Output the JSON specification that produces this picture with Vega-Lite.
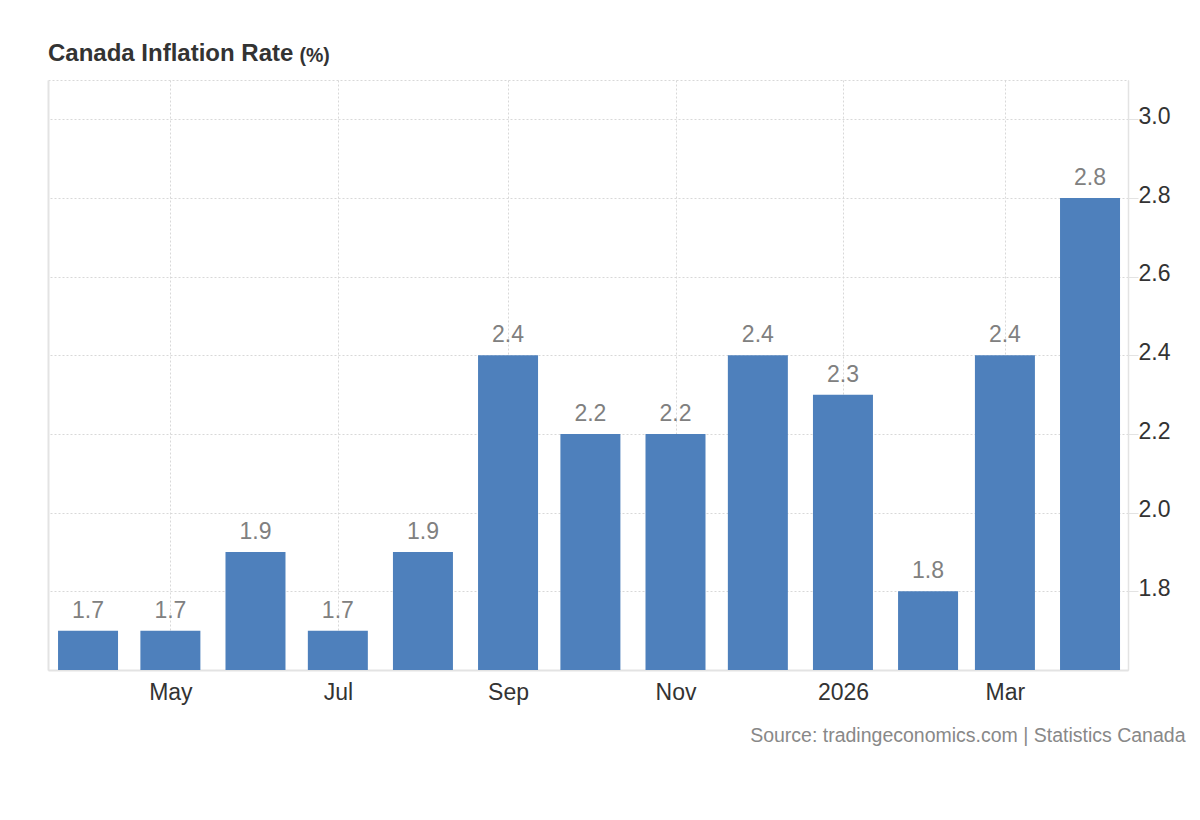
{
  "$schema": "https://vega.github.io/schema/vega-lite/v6.json",
  "width": 1080,
  "height": 590,
  "autosize": {"type": "none"},
  "padding": {"left": 48, "top": 80, "right": 72, "bottom": 150},
  "background": "white",
  "config": {
    "font": "Liberation Sans",
    "view": {"stroke": "#d8d8d8", "strokeDash": [2, 2]}
  },
  "title": {
    "text": "Canada Inflation Rate",
    "anchor": "start",
    "frame": "group",
    "fontSize": 24,
    "fontWeight": "bold",
    "color": "#333333",
    "baseline": "alphabetic",
    "offset": -3,
    "dy": 37
  },
  "data": {
    "values": [
      {"date": "2025-04-01", "value": 1.7},
      {"date": "2025-05-01", "value": 1.7},
      {"date": "2025-06-01", "value": 1.9},
      {"date": "2025-07-01", "value": 1.7},
      {"date": "2025-08-01", "value": 1.9},
      {"date": "2025-09-01", "value": 2.4},
      {"date": "2025-10-01", "value": 2.2},
      {"date": "2025-11-01", "value": 2.2},
      {"date": "2025-12-01", "value": 2.4},
      {"date": "2026-01-01", "value": 2.3},
      {"date": "2026-02-01", "value": 1.8},
      {"date": "2026-03-01", "value": 2.4},
      {"date": "2026-04-01", "value": 2.8}
    ]
  },
  "encoding": {
    "x": {
      "field": "date",
      "type": "temporal",
      "scale": {
        "type": "utc",
        "nice": false,
        "padding": 0,
        "domain": [
          {"year": 2025, "month": 3, "date": 17, "hours": 10, "utc": true},
          {"year": 2026, "month": 4, "date": 14, "hours": 20, "utc": true}
        ]
      },
      "axis": {
        "values": [
          {"year": 2025, "month": 5, "date": 1, "utc": true},
          {"year": 2025, "month": 7, "date": 1, "utc": true},
          {"year": 2025, "month": 9, "date": 1, "utc": true},
          {"year": 2025, "month": 11, "date": 1, "utc": true},
          {"year": 2026, "month": 1, "date": 1, "utc": true},
          {"year": 2026, "month": 3, "date": 1, "utc": true}
        ],
        "labelExpr": "utcFormat(datum.value, '%m') == '01' ? utcFormat(datum.value, '%Y') : utcFormat(datum.value, '%b')",
        "grid": true,
        "gridColor": "#d8d8d8",
        "gridDash": [2, 2],
        "ticks": false,
        "tickSize": 0,
        "labelPadding": 29,
        "labelBaseline": "alphabetic",
        "labelFontSize": 23,
        "labelColor": "#333333",
        "domainColor": "#e3e3e3",
        "domainWidth": 2,
        "title": "Source: tradingeconomics.com | Statistics Canada",
        "titleX": 1137,
        "titleY": 71,
        "titleAlign": "right",
        "titleBaseline": "alphabetic",
        "titleFontSize": 19.5,
        "titleFontWeight": "normal",
        "titleColor": "#888888"
      }
    }
  },
  "layer": [
    {
      "mark": {"type": "bar", "width": 60, "color": "#4e80bc", "clip": true},
      "encoding": {
        "y": {
          "field": "value",
          "type": "quantitative",
          "scale": {"domain": [1.6, 3.1], "zero": false, "nice": false},
          "axis": {
            "orient": "right",
            "values": [1.8, 2.0, 2.2, 2.4, 2.6, 2.8, 3.0],
            "format": ".1f",
            "grid": true,
            "gridColor": "#d8d8d8",
            "gridDash": [2, 2],
            "ticks": true,
            "tickColor": "#e3e3e3",
            "tickSize": 10,
            "labelPadding": 0,
            "labelOffset": -3,
            "labelFontSize": 23,
            "labelColor": "#333333",
            "domainColor": "#e3e3e3",
            "domainWidth": 1.5,
            "title": null
          }
        }
      }
    },
    {
      "mark": {"type": "text", "dy": -13, "baseline": "alphabetic", "fontSize": 23, "color": "#808080"},
      "encoding": {
        "y": {
          "field": "value",
          "type": "quantitative",
          "axis": {
            "orient": "left",
            "labels": false,
            "ticks": false,
            "grid": false,
            "domainColor": "#e3e3e3",
            "domainWidth": 2,
            "title": "(%)",
            "titleAngle": 0,
            "titleX": 251,
            "titleY": -19,
            "titleAlign": "left",
            "titleBaseline": "alphabetic",
            "titleFontSize": 19.5,
            "titleFontWeight": "bold",
            "titleColor": "#333333"
          }
        },
        "text": {"field": "value", "type": "quantitative", "format": ".1f"}
      }
    }
  ],
  "resolve": {"axis": {"y": "independent"}}
}
